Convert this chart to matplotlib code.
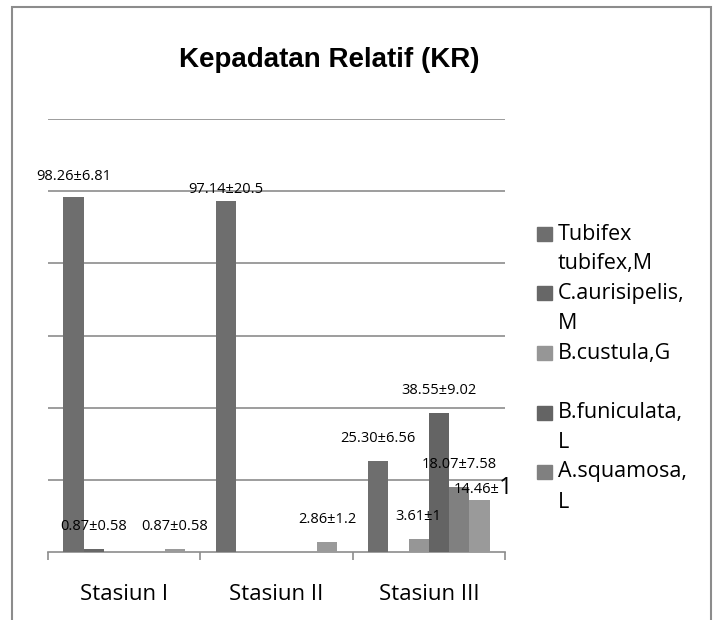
import numpy as np
import matplotlib
matplotlib.use('Agg')
import matplotlib.pyplot as plt
from matplotlib.patches import Rectangle

# data
stations = ['Stasiun I', 'Stasiun II', 'Stasiun III']
series_names = ['Tubifex tubifex,M', 'C.aurisipelis, M', 'B.custula,G',
                'B.funiculata, L', 'A.squamosa, L', '']
tubifex = [98.26, 97.14, 25.30]
aurisipelis = [0.87, 0, 0]
custula = [0, 0, 3.61]
funiculata = [0, 0, 38.55]
squamosa = [0, 0, 18.07]
sixth = [0.87, 2.86, 14.46]
labels = {
    (0, 0): '98.26±6.81', (0, 1): '97.14±20.5', (0, 2): '25.30±6.56',
    (1, 0): '0.87±0.58',
    (2, 2): '3.61±1',
    (3, 2): '38.55±9.02',
    (4, 2): '18.07±7.58',
    (5, 0): '0.87±0.58', (5, 1): '2.86±1.2', (5, 2): '14.46±',
}
series = [tubifex, aurisipelis, custula, funiculata, squamosa, sixth]
colors = ['#6e6e6e', '#676767', '#969696', '#646464', '#808080', '#9a9a9a']

FONT = ['Open Sans', 'DejaVu Sans']
plt.rcParams['font.family'] = FONT

fig = plt.figure(figsize=(7.17, 6.2), dpi=100)
ax = fig.add_axes([48/717, 68/620, 457/717, 433/620])

x = np.arange(len(stations))
w = 0.8 / 6
for k, vals in enumerate(series):
    pos = x + (k - 2.5) * w
    ax.bar(pos, vals, width=w, color=colors[k], zorder=3)
    for i, v in enumerate(vals):
        key = (k, i)
        if key not in labels:
            continue
        off = 16
        if key == (0, 1):
            off = 8.5
        if key == (0, 0):
            off = 15
        if key == (5, 2):
            ax.annotate(labels[key], (pos[i], v), xytext=(14, 7.5),
                        textcoords='offset points', ha='right', va='center',
                        fontsize=10.5, zorder=5)
            ax.annotate('1', (pos[i], v), xytext=(14, 8.5),
                        textcoords='offset points', ha='left', va='center',
                        fontsize=17, zorder=5)
            continue
        ax.annotate(labels[key], (pos[i], v), xytext=(0, off),
                    textcoords='offset points', ha='center', va='center',
                    fontsize=10.5, zorder=5)

ax.set_xlim(-0.5, 2.5)
ax.set_ylim(0, 120)
ax.set_yticks(np.arange(20, 121, 20))
ax.yaxis.grid(True, color='#8c8c8c', linewidth=1.2, zorder=0)
ax.tick_params(axis='y', left=False, labelleft=False)
ax.set_xticks(x)
ax.set_xticklabels(stations, fontsize=16)
ax.tick_params(axis='x', length=0, pad=23)
ax.set_xticks([-0.5, 0.5, 1.5, 2.5], minor=True)
ax.tick_params(axis='x', which='minor', length=6, width=1.2, color='#8c8c8c')
for s in ['top', 'right', 'left']:
    ax.spines[s].set_visible(False)
ax.spines['bottom'].set_color('#8c8c8c')
ax.spines['bottom'].set_linewidth(1.2)

fig.text(329/717, 1 - 60/620, 'Kepadatan Relatif (KR)',
         family=['Liberation Sans', 'DejaVu Sans'], fontweight='bold',
         fontsize=20, ha='center', va='center')

# legend drawn by hand (Excel style, one slot per entry)
leg_lines = [['Tubifex', 'tubifex,M'], ['C.aurisipelis,', 'M'], ['B.custula,G'],
             ['B.funiculata,', 'L'], ['A.squamosa,', 'L']]
for j, lines in enumerate(leg_lines):
    yc = 234 + 59.5 * j
    fig.patches.append(Rectangle((537/717, 1 - (yc + 7)/620), 15/717, 14/620,
                                 transform=fig.transFigure, color=colors[j]))
    for m, t in enumerate(lines):
        fig.text(558/717, 1 - (yc + 30 * m)/620, t, fontsize=15.5,
                 ha='left', va='center')

# chart border
fig.patches.append(Rectangle((12/717, -0.05), 699/717, 1.05 - 7/620,
                             transform=fig.transFigure, fill=False,
                             edgecolor='#8c8c8c', linewidth=1.5))

plt.savefig('out.png', dpi=100)
